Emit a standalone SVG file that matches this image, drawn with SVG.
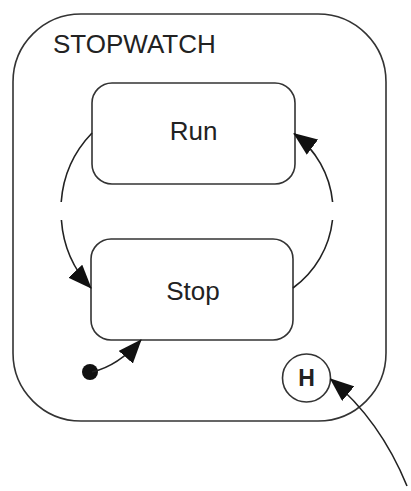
<svg xmlns="http://www.w3.org/2000/svg" width="411" height="491" viewBox="0 0 411 491">
  <style>
    .box { fill: #fff; stroke: #333; stroke-width: 1.6; }
    .outer { fill: none; stroke: #333; stroke-width: 1.6; }
    .lbl { font-family: "Liberation Sans", Arial, sans-serif; font-size: 26px; fill: #222; }
    .edge { fill: none; stroke: #222; stroke-width: 1.6; }
  </style>
  <defs>
    <marker id="arr" viewBox="0 0 24 19" refX="23" refY="9.5" markerWidth="24" markerHeight="19" markerUnits="userSpaceOnUse" orient="auto">
      <path d="M0,0 L24,9.5 L0,19 z" fill="#111"/>
    </marker>
  </defs>
  <g id="stopwatch">
    <rect class="outer" x="13" y="14" width="373" height="407" rx="68" ry="68"/>
    <text class="lbl" x="53" y="53">STOPWATCH</text>
  </g>
  <g id="run">
    <rect class="box" x="92" y="83" width="203" height="101" rx="20" ry="20"/>
    <text class="lbl" x="193.5" y="140" text-anchor="middle">Run</text>
  </g>
  <g id="stop">
    <rect class="box" x="91" y="239" width="202" height="101" rx="20" ry="20"/>
    <text class="lbl" x="193" y="300" text-anchor="middle">Stop</text>
  </g>
  <g id="history">
    <circle class="box" cx="306.5" cy="378" r="24"/>
    <text x="306.5" y="386" text-anchor="middle" font-family="Liberation Sans, Arial, sans-serif" font-size="23" font-weight="bold" fill="#222">H</text>
  </g>
  <g id="initial">
    <circle cx="90" cy="372" r="8" fill="#111"/>
  </g>
  <g id="connectors">
    <path class="edge" d="M92,133 A111,111 0 0 0 61.2,202"/>
    <path class="edge" d="M61.4,220 A111,111 0 0 0 91,288" marker-end="url(#arr)"/>
    <path class="edge" d="M293,288 A97,97 0 0 0 332.5,220"/>
    <path class="edge" d="M332.6,202 A97,97 0 0 0 294,133.5" marker-end="url(#arr)"/>
    <path class="edge" d="M92,372 Q118,366 141,340" marker-end="url(#arr)"/>
    <path class="edge" d="M407,486 Q380,420 330.5,379" marker-end="url(#arr)"/>
  </g>
</svg>
